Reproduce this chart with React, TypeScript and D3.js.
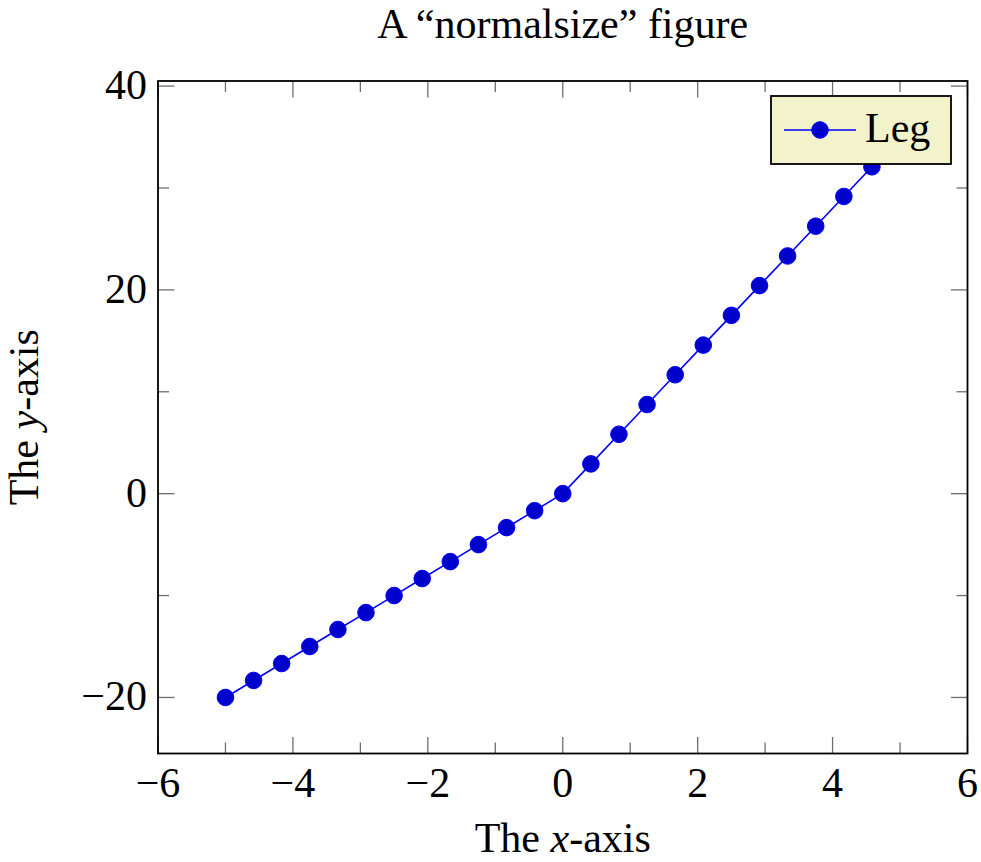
import React, { useMemo } from "react";
import * as d3 from "d3";

// sampled curve, 25 points over [-5, 5]
const xValues = [
  -5, -4.583, -4.167, -3.75, -3.333, -2.917, -2.5, -2.083, -1.667, -1.25, -0.833, -0.417,
  0, 0.417, 0.833, 1.25, 1.667, 2.083, 2.5, 2.917, 3.333, 3.75, 4.167, 4.583, 5,
];
const yValues = [
  -20, -18.33, -16.67, -15, -13.33, -11.67, -10, -8.33, -6.67, -5, -3.33, -1.67,
  0, 2.92, 5.83, 8.75, 11.67, 14.58, 17.5, 20.42, 23.33, 26.25, 29.17, 32.08, 35,
];

const xMajorTicks = [-6, -4, -2, 0, 2, 4, 6];
const xMinorTicks = [-5, -3, -1, 1, 3, 5];
const yMajorTicks = [-20, 0, 20, 40];
const yMinorTicks = [-10, 10, 30];

const title = "A \u201cnormalsize\u201d figure";
const legendLabel = "Leg";

const W = 981;
const H = 862;
const left = 158;
const right = 967.5;
const top = 81;
const bottom = 753.5;

const FONT = "'Liberation Serif', 'Times New Roman', serif";
const TICK_COLOR = "#6e6e6e";
const MAJOR = 16.5;
const MINOR = 11;

const App = () => {
  const x = useMemo(() => d3.scaleLinear([-6, 6], [left, right]), []);
  const y = useMemo(() => d3.scaleLinear([-25.5, 40.5], [bottom, top]), []);

  const points = useMemo(() => xValues.map((v, i) => [v, yValues[i]]), []);

  const line = useMemo(
    () =>
      d3
        .line()
        .x((d: any) => x(d[0]))
        .y((d: any) => y(d[1])),
    [x, y]
  );

  const fmt = x.tickFormat(10, "d");

  return (
    <svg
      width={W}
      height={H}
      style={{ position: "absolute", top: 0, left: 0, background: "#fff" }}
      fontFamily={FONT}
    >
      <rect width={W} height={H} fill="#fff" />

      {/* ticks on all four sides, pointing inward */}
      <g stroke={TICK_COLOR} strokeWidth={1.3}>
        {xMajorTicks.concat(xMinorTicks).map((t) => {
          const len = xMajorTicks.includes(t) ? MAJOR : MINOR;
          return (
            <React.Fragment key={"x" + t}>
              <line x1={x(t)} x2={x(t)} y1={bottom} y2={bottom - len} />
              <line x1={x(t)} x2={x(t)} y1={top} y2={top + len} />
            </React.Fragment>
          );
        })}
        {yMajorTicks.concat(yMinorTicks).map((t) => {
          const len = yMajorTicks.includes(t) ? MAJOR : MINOR;
          return (
            <React.Fragment key={"y" + t}>
              <line x1={left} x2={left + len} y1={y(t)} y2={y(t)} />
              <line x1={right} x2={right - len} y1={y(t)} y2={y(t)} />
            </React.Fragment>
          );
        })}
      </g>

      {/* plot */}
      <path d={line(points as any) as string} fill="none" stroke="#0000ff" strokeWidth={1.6} />
      {points.map((d, i) => (
        <circle
          key={i}
          cx={x(d[0])}
          cy={y(d[1])}
          r={8.3}
          fill="#0000cc"
          stroke="#0000ff"
          strokeWidth={1}
        />
      ))}

      {/* axis box */}
      <rect
        x={left}
        y={top}
        width={right - left}
        height={bottom - top}
        fill="none"
        stroke="#000"
        strokeWidth={1.8}
      />

      {/* tick labels */}
      <g fontSize={42} fill="#000">
        {xMajorTicks.map((t) => (
          <text key={"xl" + t} x={x(t)} y={797} textAnchor="middle">
            {fmt(t)}
          </text>
        ))}
        {yMajorTicks.map((t) => (
          <text key={"yl" + t} x={147} y={y(t) + 13} textAnchor="end">
            {fmt(t)}
          </text>
        ))}
      </g>

      {/* legend */}
      <g>
        <rect x={771} y={96} width={180} height={68} fill="#f3f3cb" stroke="#000" strokeWidth={1.8} />
        <line x1={784} x2={856} y1={130} y2={130} stroke="#0000ff" strokeWidth={1.6} />
        <circle cx={820} cy={130} r={8.3} fill="#0000cc" stroke="#0000ff" strokeWidth={1} />
        <text x={865} y={142} fontSize={42}>
          {legendLabel}
        </text>
      </g>

      {/* title and axis labels */}
      <text x={(left + right) / 2} y={38} fontSize={42} textAnchor="middle">
        {title}
      </text>
      <text x={(left + right) / 2} y={852} fontSize={42} textAnchor="middle">
        The <tspan fontStyle="italic">x</tspan>-axis
      </text>
      <text
        transform={`translate(38,${(top + bottom) / 2}) rotate(-90)`}
        fontSize={42}
        textAnchor="middle"
      >
        The <tspan fontStyle="italic">y</tspan>-axis
      </text>
    </svg>
  );
};

export default App;
